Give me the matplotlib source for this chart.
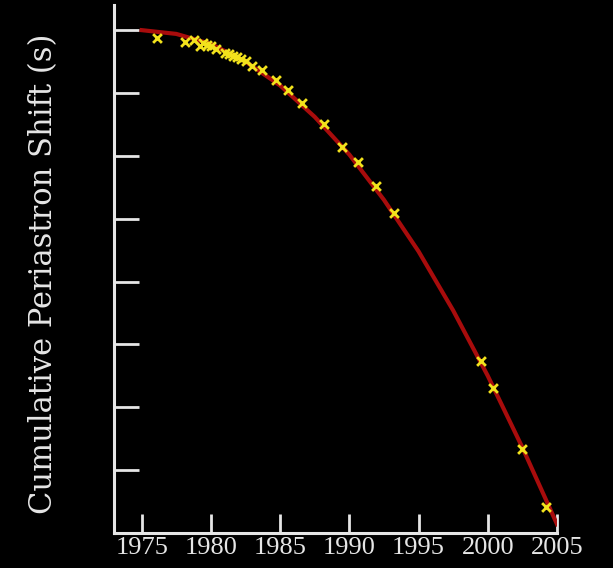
import matplotlib.pyplot as plt

# Theoretical curve
curve_years = [1975, 1977.5, 1980, 1982.5, 1985, 1987.5, 1990, 1992.5,
               1995, 1997.5, 2000, 2002.5, 2005]
curve_shift = [0, -0.3, -1.1, -2.5, -4.4, -6.9, -9.9, -13.5,
               -17.6, -22.3, -27.5, -33.2, -39.3]

# Measured points
obs_years = [1976.1, 1978.1, 1978.8, 1979.2, 1979.4, 1979.7, 1980.0, 1980.4,
             1981.0, 1981.3, 1981.6, 1981.9, 1982.2, 1982.5, 1983.0, 1983.7,
             1984.7, 1985.6, 1986.6, 1988.2, 1989.5, 1990.6, 1991.9, 1993.2,
             1999.5, 2000.4, 2002.5, 2004.2]
obs_shift = [-0.63, -0.95, -0.79, -1.27, -1.03, -1.19, -1.27, -1.51,
             -1.83, -1.90, -2.06, -2.14, -2.30, -2.46, -2.86, -3.17,
             -3.97, -4.76, -5.79, -7.46, -9.29, -10.48, -12.38, -14.52,
             -26.35, -28.49, -33.33, -37.94]

x_ticks = [1975, 1980, 1985, 1990, 1995, 2000, 2005]
y_ticks = [-35, -30, -25, -20, -15, -10, -5, 0]

fig = plt.figure(figsize=(6.13, 5.68), dpi=100, facecolor='black')
ax = fig.add_axes([114 / 613, 35 / 568, 443 / 613, 528 / 568])
ax.set_facecolor('black')

ax.plot(curve_years, curve_shift, color='#a80c0c', linewidth=3, zorder=2)
ax.scatter(obs_years, obs_shift, marker='x', s=40, color='#f2e21c',
           linewidths=2, zorder=3)

ax.set_xlim(1973, 2005)
ax.set_ylim(-40, 2)

for side in ['top', 'right']:
    ax.spines[side].set_visible(False)
for side in ['left', 'bottom']:
    ax.spines[side].set_color('#e6e6e6')
    ax.spines[side].set_linewidth(2.2)

ax.set_xticks(x_ticks)
ax.set_xticklabels([str(t) for t in x_ticks], family='Liberation Serif',
                   fontsize=19, color='#e6e6e6')
ax.set_yticks(y_ticks)
ax.set_yticklabels([])
ax.tick_params(axis='x', direction='in', length=14, width=2, color='#e6e6e6', pad=3)
ax.tick_params(axis='y', direction='in', length=18, width=2, color='#e6e6e6')

ax.set_ylabel('Cumulative Periastron Shift (s)', family='DejaVu Serif',
              fontsize=22, color='#e6e6e6', va='center')
ax.yaxis.set_label_coords(-0.158, 0.49)

plt.savefig('out.png', dpi=100, facecolor='black')
